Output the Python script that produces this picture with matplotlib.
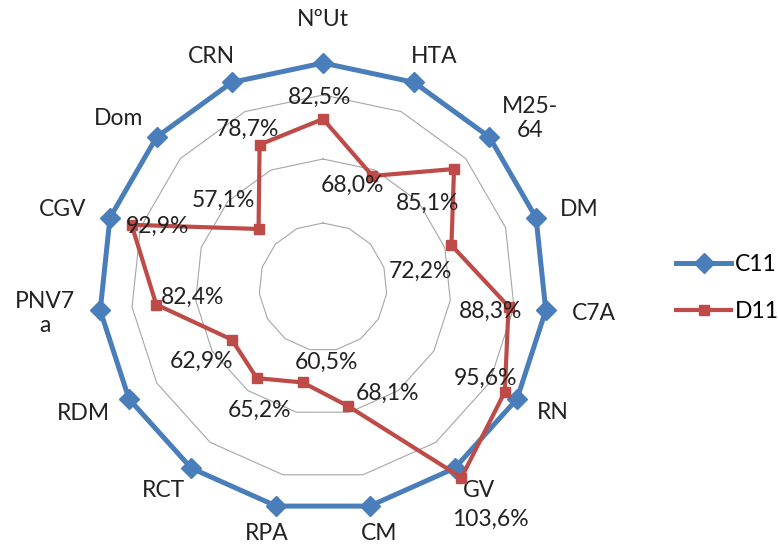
import matplotlib
matplotlib.use("Agg")
import matplotlib.pyplot as plt
import numpy as np

# data
categories = ["NºUt", "HTA", "M25-\n64", "DM", "C7A", "RN", "GV", "CM",
              "RPA", "RCT", "RDM", "PNV7\na", "CGV", "Dom", "CRN"]
c11 = [1.0] * 15
d11 = [0.825, 0.680, 0.851, 0.722, 0.883, 0.956, 1.036, 0.681,
       0.605, 0.652, 0.629, 0.824, 0.929, 0.571, 0.787]
d11_labels = ["82,5%", "68,0%", "85,1%", "72,2%", "88,3%", "95,6%", "103,6%",
              "68,1%", "60,5%", "65,2%", "62,9%", "82,4%", "92,9%", "57,1%", "78,7%"]
grid_values = [0.5, 0.7, 0.9]

# layout
r_min = 0.3
px_unit = 320.0            # pixels per value unit
cx, cy = 323, 287          # centre of the radar in pixels (from top-left)
W, H = 778, 544
# offsets of data labels from their points, in pixels (x right, y down)
label_off = [(-3, -22), (-20, 9), (-26, 34), (-31, 26), (-18, 5), (-19, -14),
             (29, 42), (39, -13), (24, -20), (3, 32), (-30, 22), (36, -7),
             (26, 2), (-35, -29), (-12, -15)]

blue = "#4A7EBB"
red = "#BE4B48"
font = "Lato"
fs = 16.5

plt.rcParams['font.family'] = [font, 'DejaVu Sans']

n = len(categories)
theta = np.arange(n) * 2 * np.pi / n


def to_xy(vals, close=False):
    r = np.asarray(vals, dtype=float) - r_min
    x = r * np.sin(theta)
    y = r * np.cos(theta)
    if close:
        x = np.append(x, x[0])
        y = np.append(y, y[0])
    return x, y


fig = plt.figure(figsize=(W / 100, H / 100), dpi=100)
ax = fig.add_axes([0, 0, 1, 1])
ax.set_xlim(-cx / px_unit, (W - cx) / px_unit)
ax.set_ylim(-(H - cy) / px_unit, cy / px_unit)
ax.axis('off')

# polygon gridlines
for g in grid_values:
    gx, gy = to_xy([g] * n, close=True)
    ax.plot(gx, gy, color="#A6A6A6", lw=0.8, zorder=1)

# series
x1, y1 = to_xy(c11, close=True)
ax.plot(x1, y1, color=blue, lw=3.6, marker='D', ms=10, markevery=range(n),
        label="C11", zorder=3, solid_joinstyle='miter')
x2, y2 = to_xy(d11, close=True)
ax.plot(x2, y2, color=red, lw=3.0, marker='s', ms=7.5, markevery=range(n),
        label="D11", zorder=4, solid_joinstyle='miter')

# data labels
px, py = to_xy(d11)
for i in range(n):
    ax.annotate(d11_labels[i], (px[i], py[i]),
                xytext=(label_off[i][0], -label_off[i][1]),
                textcoords='offset pixels', ha='center', va='center',
                fontsize=fs, color="#222222", zorder=5)

# category labels: horizontally the box touches a circle, vertically centred on it
R_lab = 250 / px_unit
R_v = 252 / px_unit
texts = []
for i, lab in enumerate(categories):
    s, c = np.sin(theta[i]), np.cos(theta[i])
    t = ax.text(R_lab * s, R_v * c, lab, ha='center', va='center',
                multialignment='center', fontsize=fs, color="#222222",
                linespacing=1.15)
    texts.append((t, s, c))
# the top label sits a little higher in the reference
texts[0][0].set_y((R_v + 15 / px_unit))

fig.canvas.draw()
renderer = fig.canvas.get_renderer()
for t, s, c in texts:
    bb = t.get_window_extent(renderer)
    x0, y0 = t.get_position()
    t.set_position((x0 + bb.width / 2 * s / px_unit, y0))

ax.legend(loc='center left', bbox_to_anchor=(667 / W, 1 - 288 / H),
          bbox_transform=fig.transFigure, frameon=False, fontsize=fs,
          handlelength=2.4, handletextpad=0.15, labelspacing=1.1,
          borderaxespad=0)

fig.savefig("out.png", dpi=100)
